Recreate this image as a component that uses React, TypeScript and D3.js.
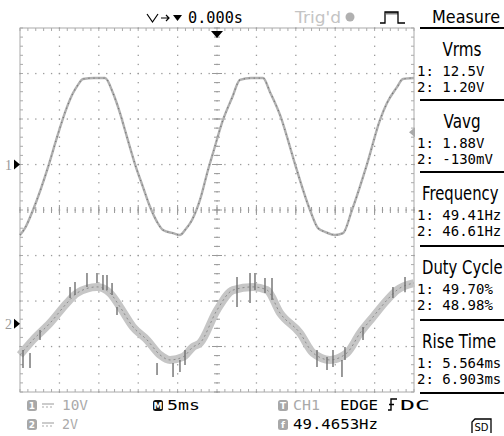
import React from 'react';
import * as d3 from 'd3';

// ch1 trace (time in ms from left edge, volts)
const ch1Time = [0, 0.63, 1.65, 3.68, 4.7, 5.96, 6.73, 7.36, 8.0, 9.39, 10.79, 11.8, 12.69, 13.58, 14.59, 15.6, 16.5, 17.39, 18.15, 19.42, 20.3, 20.94, 21.83, 22.84, 23.86, 24.49, 25.76, 26.9, 27.92, 29.3, 30.84, 31.73, 33.1, 34.0, 34.9, 36.8, 37.82, 38.7, 39.97, 40.99, 42.13, 44.04, 45.69, 46.57, 47.84, 48.6, 50];
const ch1Volts = [-15.5, -14.0, -10.0, 0.1, 6.0, 12.6, 15.7, 17.5, 18.8, 19.0, 19.0, 15.7, 11.3, 6.0, 0.1, -4.9, -9.3, -12.6, -14.4, -15.1, -15.5, -14.4, -12.2, -7.8, -1.2, 2.5, 9.8, 14.6, 18.6, 19.0, 19.0, 15.9, 10.4, 5.4, 0.1, -10.0, -14.0, -14.8, -15.5, -15.1, -10.0, 0.1, 9.8, 13.5, 17.0, 18.8, 19.0];

// ch2 trace centre (noisy)
const ch2Time = [0, 1.65, 3.81, 5.96, 7.23, 9.77, 11.42, 12.69, 14.34, 16.12, 17.77, 19.04, 20.69, 21.95, 22.84, 25.0, 27.03, 29.57, 31.35, 33.0, 35.53, 37.18, 39.34, 41.5, 43.15, 44.8, 46.57, 47.84, 50];
const ch2Volts = [-1.37, -0.71, 0.03, 0.91, 1.35, 1.62, 1.35, 0.74, -0.14, -0.71, -1.37, -1.59, -1.46, -1.02, -0.85, 0.6, 1.48, 1.62, 1.48, 0.47, -0.41, -1.28, -1.59, -1.28, -0.41, 0.3, 1.04, 1.48, 1.79];

// noise spikes on ch2: time, top, bottom (volts)
const spikeTime = [0.38, 1.27, 2.54, 6.35, 6.98, 8.5, 9.77, 10.53, 11.04, 11.68, 12.31, 17.39, 19.42, 20.3, 20.94, 27.54, 29.19, 29.82, 31.09, 31.98, 37.69, 38.96, 39.72, 40.86, 41.24, 43.53, 47.33, 48.86];
const spikeHigh = [-1.15, -1.29, -0.27, 1.61, 1.84, 2.23, 2.23, 2.14, 2.14, 1.79, 0.74, -1.72, -1.72, -1.59, -1.15, 2.05, 2.23, 2.23, 2.01, 2.01, -1.15, -1.46, -1.15, -1.59, -1.02, -0.14, 1.62, 2.05];
const spikeLow = [-1.95, -1.95, -0.71, 1.13, 1.26, 1.62, 1.79, 1.48, 1.48, 1.26, 0.38, -2.25, -2.34, -2.12, -1.81, 0.74, 0.91, 1.48, 1.35, 1.04, -1.9, -2.03, -1.9, -2.34, -1.59, -0.71, 1.13, 1.39];

const triggerLevel = 7.1;
const measureNames = ['Vrms', 'Vavg', 'Frequency', 'Duty Cycle', 'Rise Time'];
const ch1Readings = ['12.5V', '1.88V', '49.41Hz', '49.70%', '5.564ms'];
const ch2Readings = ['1.20V', '-130mV', '46.61Hz', '48.98%', '6.903ms'];
// horizontal squeeze of the narrow scope font
const nameSqueeze = [0.8, 0.8, 0.78, 0.78, 0.8];

const W = 504;
const H = 436;
const L = 20, R = 414, T = 28, B = 392;

const mono = 'DejaVu Sans Mono';
const sans = 'DejaVu Sans';
const grey = '#9a9a9a';

function Badge({ x, y, label, fill }: { x: number; y: number; label: string; fill: string }) {
  return (
    <g>
      <rect x={x} y={y - 10} width={10} height={11} rx={2.5} fill={fill} />
      <text x={x + 5} y={y - 1} fontSize={9} fontWeight="bold" fill="#fff" textAnchor="middle" fontFamily={sans}>{label}</text>
    </g>
  );
}

function DcMark({ x, y, color }: { x: number; y: number; color: string }) {
  return (
    <g stroke={color} strokeWidth={1.2}>
      <line x1={x} x2={x + 12} y1={y - 6} y2={y - 6} />
      <line x1={x} x2={x + 12} y1={y - 3} y2={y - 3} strokeDasharray="2 2" />
    </g>
  );
}

export default function App() {
  const x = d3.scaleLinear().domain([0, 50]).range([L, R]);
  const div = d3.scaleLinear().domain([-4, 4]).range([B, T]);
  const y1 = d3.scaleLinear().domain([-50, 30]).range([B, T]);
  const y2 = d3.scaleLinear().domain([-3, 13]).range([B, T]);

  const line1 = d3.line<number>().x((_, i) => x(ch1Time[i])).y(d => y1(d)).curve(d3.curveMonotoneX);
  const line2 = d3.line<number>().x((_, i) => x(ch2Time[i])).y(d => y2(d)).curve(d3.curveMonotoneX);
  const path1 = line1(ch1Volts) || '';
  const path2 = line2(ch2Volts) || '';

  // graticule
  const subX = d3.range(0, 50.01, 1); // 1/5 division
  const subY = d3.range(-4, 4.01, 0.2);
  const majX = d3.range(5, 50, 5);
  const majY = d3.range(-3, 4, 1);

  const dots: React.ReactElement[] = [];
  majY.forEach(v => {
    subX.forEach(t => {
      dots.push(<rect key={`h${v}_${t}`} x={x(t) - 0.6} y={div(v) - 0.6} width={1.3} height={1.3} fill={grey} />);
    });
  });
  majX.forEach(t => {
    subY.forEach(v => {
      dots.push(<rect key={`v${t}_${v}`} x={x(t) - 0.6} y={div(v) - 0.6} width={1.3} height={1.3} fill={grey} />);
    });
  });

  const sepY = [28, 100, 172, 246, 320, 393];

  return (
    <div style={{ position: 'fixed', left: 0, top: 0 }}>
      <svg width={W} height={H} style={{ display: 'block', background: '#fff' }}>
        {/* header */}
        <g fontFamily={mono} fontSize={15}>
          <path d="M147,14 L152.5,22 L158,14" fill="none" stroke="#000" strokeWidth={1.2} />
          <path d="M161,18 H169 M166,15 L169,18 L166,21" fill="none" stroke="#000" strokeWidth={1.2} />
          <path d="M173,15 H182 L177.5,21 Z" fill="#000" />
          <text x={188} y={23} textLength={55} lengthAdjust="spacingAndGlyphs">0.000s</text>
          <text x={295} y={23} fill="#c4c4c4" fontFamily={sans} fontSize={15} textLength={46} lengthAdjust="spacingAndGlyphs">Trig'd</text>
          <circle cx={350} cy={17} r={4.5} fill="#b0b0b0" />
          <path d="M380,23 H385 V12 H398 V23 H405" fill="none" stroke="#000" strokeWidth={1.3} />
          {d3.range(387, 398, 2).map(px => <line key={px} x1={px} x2={px} y1={12} y2={14.5} stroke="#000" strokeWidth={1} />)}
          <text x={432} y={23} fontFamily={sans} fontSize={17} textLength={68} lengthAdjust="spacingAndGlyphs">Measure</text>
        </g>

        {/* graticule */}
        <rect x={L} y={T} width={R - L} height={B - T} fill="none" stroke="#aaa" strokeWidth={1} />
        {subX.map(t => (
          <g key={`bt${t}`} stroke="#aaa" strokeWidth={1}>
            <line x1={x(t)} x2={x(t)} y1={T} y2={T + 3} />
            <line x1={x(t)} x2={x(t)} y1={B} y2={B - 3} />
            <line x1={x(t)} x2={x(t)} y1={div(0) - 3} y2={div(0) + 3} stroke="#999" />
          </g>
        ))}
        {majX.map(t => <line key={`cl${t}`} x1={x(t)} x2={x(t)} y1={div(0) - 5} y2={div(0) + 5} stroke="#999" />)}
        {subY.map(v => (
          <g key={`bl${v}`} stroke="#aaa" strokeWidth={1}>
            <line x1={L} x2={L + 3} y1={div(v)} y2={div(v)} />
            <line x1={R} x2={R - 3} y1={div(v)} y2={div(v)} />
            <line x1={x(25) - 3} x2={x(25) + 3} y1={div(v)} y2={div(v)} stroke="#999" />
          </g>
        ))}
        {majY.map(v => <line key={`cv${v}`} x1={x(25) - 5} x2={x(25) + 5} y1={div(v)} y2={div(v)} stroke="#999" />)}
        {dots}

        {/* traces */}
        <path d={path2} fill="none" stroke="#c6c6c6" strokeWidth={8} strokeLinejoin="round" />
        <path d={path2} fill="none" stroke="#8c8c8c" strokeWidth={1} strokeDasharray="2 3" />
        {spikeTime.map((t, i) => (
          <line key={`s${i}`} x1={x(t)} x2={x(t)} y1={y2(spikeHigh[i])} y2={y2(spikeLow[i])} stroke="#6f6f6f" strokeWidth={1.4} />
        ))}
        <path d={path1} fill="none" stroke="#b0b0b0" strokeWidth={2.4} strokeLinejoin="round" />
        <path d={path1} fill="none" stroke="#707070" strokeWidth={1.2} strokeDasharray="1 4" />

        {/* markers */}
        <path d={`M${x(25) - 6},${T + 3} H${x(25) + 6} L${x(25)},${T + 10} Z`} fill="#000" />
        <text x={5} y={y1(0) + 5} fontFamily="Liberation Serif" fontSize={14} fill="#999">1</text>
        <path d={`M${L - 6},${y1(0) - 5} L${L},${y1(0)} L${L - 6},${y1(0) + 5} Z`} fill="#000" />
        <text x={5} y={y2(0) + 5} fontFamily="Liberation Serif" fontSize={14} fill="#999">2</text>
        <path d={`M${L - 6},${y2(0) - 5} L${L},${y2(0)} L${L - 6},${y2(0) + 5} Z`} fill="#000" />
        <path d={`M${R + 1},${y1(triggerLevel) - 5} L${R - 5},${y1(triggerLevel)} L${R + 1},${y1(triggerLevel) + 5} Z`} fill="#aaa" />

        {/* measure panel */}
        {sepY.map(s => <line key={`sep${s}`} x1={420} x2={W} y1={s} y2={s} stroke="#000" strokeWidth={2} />)}
        {measureNames.map((n, i) => {
          const top = sepY[i];
          const wide = n.length > 5;
          return (
            <g key={n}>
              <text
                transform={`translate(${wide ? 422 : 462},${top + 28}) scale(${nameSqueeze[i]},1)`}
                fontFamily={sans}
                fontSize={19}
                textAnchor={wide ? 'start' : 'middle'}
              >{n}</text>
              <text x={417} y={top + 48} fontFamily={mono} fontSize={14}>{`1: ${ch1Readings[i]}`}</text>
              <text x={417} y={top + 64} fontFamily={mono} fontSize={14}>{`2: ${ch2Readings[i]}`}</text>
            </g>
          );
        })}

        {/* bottom status */}
        <g fontFamily={mono} fontSize={14}>
          <Badge x={27} y={410} label="1" fill="#a8a8a8" />
          <DcMark x={42} y={410} color="#aaa" />
          <text x={62} y={410} fill="#aaa" textLength={26} lengthAdjust="spacingAndGlyphs">10V</text>
          <Badge x={27} y={429} label="2" fill="#a8a8a8" />
          <DcMark x={42} y={429} color="#aaa" />
          <text x={62} y={429} fill="#aaa" textLength={16} lengthAdjust="spacingAndGlyphs">2V</text>

          <Badge x={153} y={410} label="M" fill="#111" />
          <text x={167} y={410} textLength={33} lengthAdjust="spacingAndGlyphs">5ms</text>

          <Badge x={278} y={410} label="T" fill="#a8a8a8" />
          <text x={293} y={410} fill="#aaa" textLength={27} lengthAdjust="spacingAndGlyphs">CH1</text>
          <text x={340} y={410} textLength={38} lengthAdjust="spacingAndGlyphs">EDGE</text>
          <path d="M388,410 H391 V399 H397 M389,404.5 H394" fill="none" stroke="#000" strokeWidth={1.4} />
          <text x={400} y={410} textLength={30} lengthAdjust="spacingAndGlyphs">DC</text>

          <Badge x={278} y={429} label="f" fill="#a8a8a8" />
          <text x={293} y={429} textLength={85} lengthAdjust="spacingAndGlyphs">49.4653Hz</text>

          <path d="M472,433 V422 L475,419 H491 V433" fill="none" stroke="#000" strokeWidth={1.3} />
          <text x={474.5} y={431} fontSize={10} fontFamily={sans}>SD</text>
        </g>
      </svg>
    </div>
  );
}
